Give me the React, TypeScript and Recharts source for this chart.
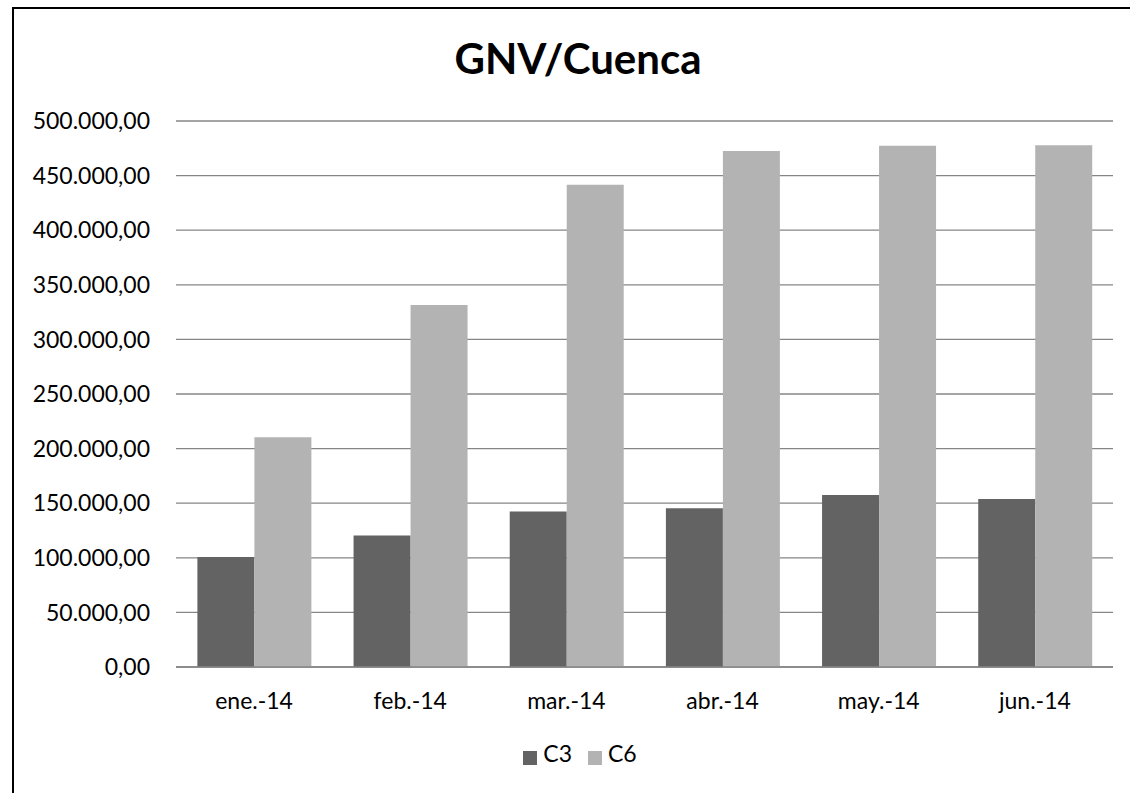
import { BarChart, Bar, XAxis, YAxis, CartesianGrid, Legend } from "recharts";

const months = ["ene.-14", "feb.-14", "mar.-14", "abr.-14", "may.-14", "jun.-14"];
const c3Values = [100800, 120500, 142500, 145400, 157500, 153900];
const c6Values = [210300, 331400, 441700, 472500, 477400, 477700];
const yTicks = [0, 50000, 100000, 150000, 200000, 250000, 300000, 350000, 400000, 450000, 500000];

const data = months.map((m, i) => ({ month: m, C3: c3Values[i], C6: c6Values[i] }));

// 500000 -> "500.000,00"
const formatEs = (v: number) => {
  const int = Math.round(v).toString().replace(/\B(?=(\d{3})+(?!\d))/g, ".");
  return int + ",00";
};

const FONT = "Lato, 'Open Sans', sans-serif";

export default function App() {
  return (
    <div
      style={{
        position: "absolute",
        left: 12,
        top: 7,
        width: 1116,
        height: 784,
        borderTop: "2px solid #000",
        borderLeft: "2px solid #000",
        overflow: "hidden",
        background: "#fff",
        fontFamily: FONT,
      }}
    >
      <div
        style={{
          position: "absolute",
          top: 28,
          left: 0,
          width: 1128,
          textAlign: "center",
          fontSize: 42,
          fontWeight: 700,
          lineHeight: 1,
          color: "#000",
        }}
      >
        GNV/Cuenca
      </div>
      <BarChart
        width={1128}
        height={784}
        data={data}
        margin={{ top: 112, right: 29, bottom: 26, left: 0 }}
        barCategoryGap="13.7%"
        barGap={0}
      >
        <CartesianGrid vertical={false} stroke="#868686" strokeWidth={1.3} />
        <XAxis
          dataKey="month"
          stroke="#868686"
          strokeWidth={1.3}
          tickLine={false}
          tickSize={0}
          tickMargin={26}
          height={72}
          tick={{ fill: "#000", fontSize: 23, fontFamily: FONT }}
        />
        <YAxis
          width={162}
          domain={[0, 500000]}
          ticks={yTicks}
          axisLine={false}
          tickLine={false}
          tickSize={0}
          tickMargin={26}
          tickFormatter={formatEs}
          tick={{ fill: "#000", fontSize: 23, fontFamily: FONT }}
        />
        <Legend
          verticalAlign="bottom"
          align="center"
          iconType="square"
          iconSize={14}
          wrapperStyle={{ left: 10, width: 1128 }}
          formatter={(value) => (
            <span style={{ color: "#000", fontSize: 23, fontFamily: FONT, marginLeft: 2, marginRight: 6 }}>
              {value}
            </span>
          )}
        />
        <Bar dataKey="C3" fill="#636363" isAnimationActive={false} />
        <Bar dataKey="C6" fill="#b3b3b3" isAnimationActive={false} />
      </BarChart>
    </div>
  );
}
